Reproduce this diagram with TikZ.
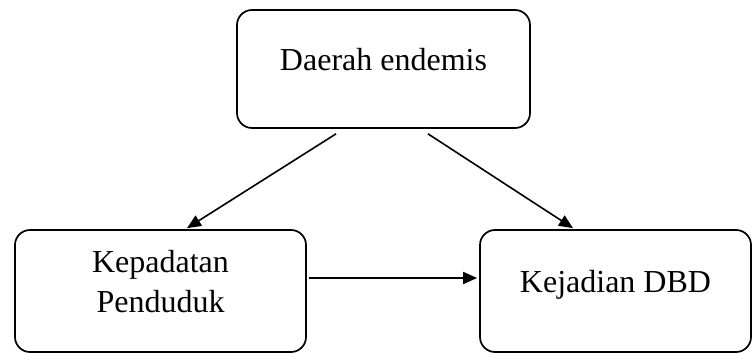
\documentclass[tikz,border=0pt]{standalone}
\usepackage{fontspec}
\setmainfont{Liberation Serif}
\usetikzlibrary{positioning, arrows.meta}

\begin{document}
\begin{tikzpicture}[
          x=1pt, y=-1pt,
          box/.style={rectangle, draw, rounded corners=15pt, line width=1.7pt,
                      align=center, text depth=20pt,
                      font=\fontsize{32}{40}\selectfont},
          arrow/.style={-{Triangle[length=14pt, width=12pt]}, line width=1.6pt},
        ]
        \useasboundingbox (0,0) rectangle (752,353);
        \node[box, minimum width=293pt, minimum height=118pt] (daerah) at (383.5,69) {Daerah endemis};
        \node[box, minimum width=291pt, minimum height=122pt] (kepadatan) at (160.5,291) {Kepadatan\\ Penduduk};
        \node[box, minimum width=271pt, minimum height=122pt] (kejadian) at (615.5,291) {Kejadian DBD};
        \draw[arrow] ([xshift=-47.5pt, yshift=-5pt]daerah.south) -- ([xshift=26.5pt, yshift=1pt]kepadatan.north);
        \draw[arrow] ([xshift=44.5pt, yshift=-5pt]daerah.south) -- ([xshift=-42.5pt, yshift=1pt]kejadian.north);
        \draw[arrow] ([xshift=2pt, yshift=13pt]kepadatan.east) -- ([xshift=-2pt, yshift=13pt]kejadian.west);
      \end{tikzpicture}
\end{document}
